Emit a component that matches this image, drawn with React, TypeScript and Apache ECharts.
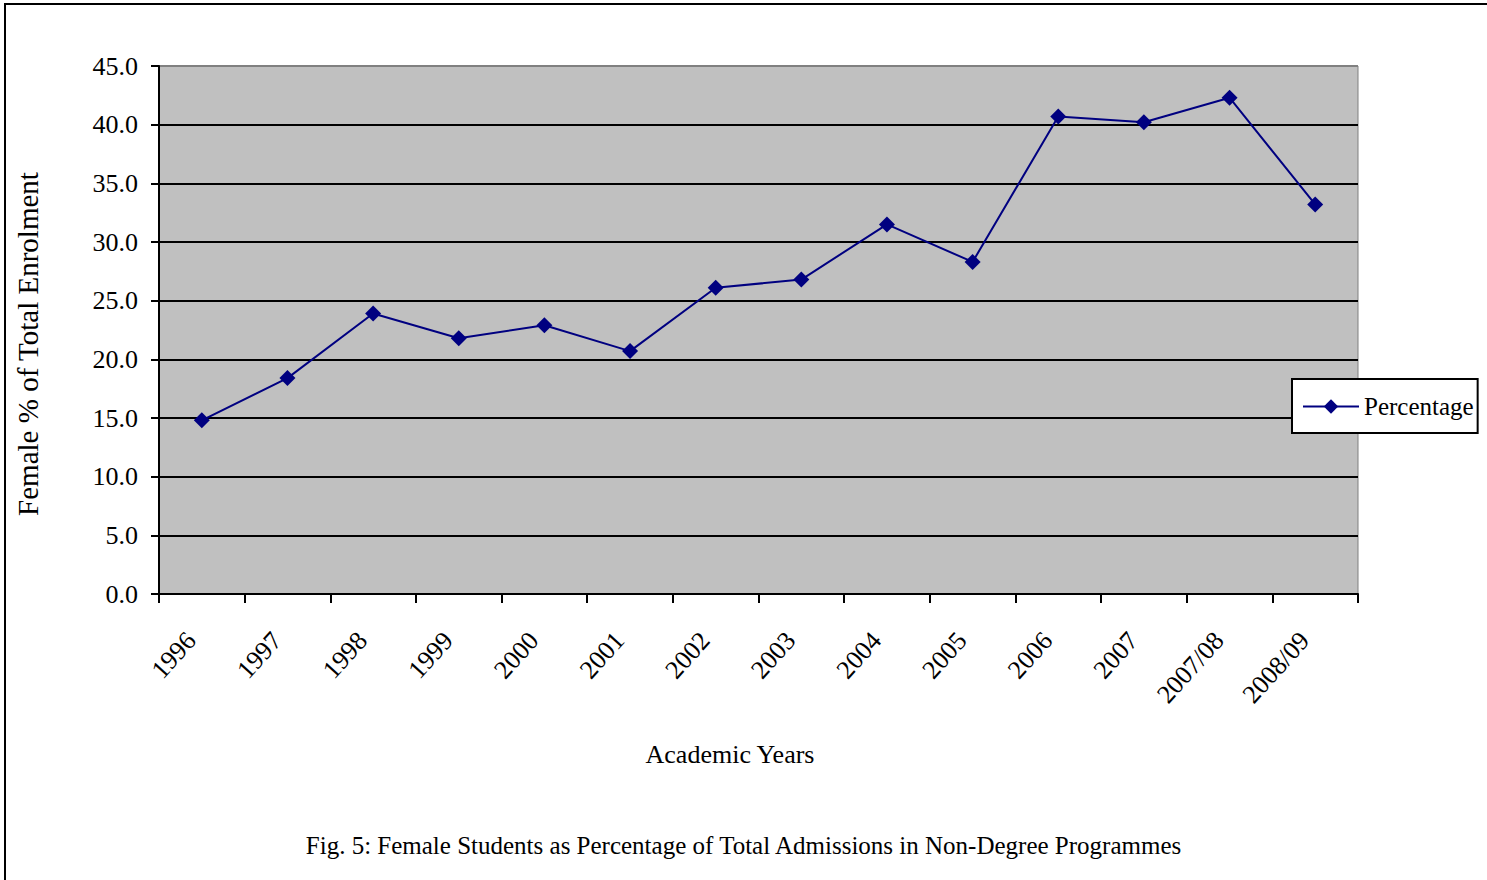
import React, { useEffect, useRef } from "react";
import * as echarts from "echarts";

const categories = ["1996", "1997", "1998", "1999", "2000", "2001", "2002", "2003", "2004", "2005", "2006", "2007", "2007/08", "2008/09"];
const percentage = [14.8, 18.4, 23.9, 21.8, 22.9, 20.7, 26.1, 26.8, 31.5, 28.3, 40.7, 40.2, 42.3, 33.2];
const seriesName = "Percentage";
const yAxisTitle = "Female % of Total Enrolment";
const xAxisTitle = "Academic Years";
const figureTitle = "Fig. 5: Female Students as Percentage of Total Admissions in Non-Degree Programmes";

const FONT = "'Liberation Serif', 'Times New Roman', serif";

export default function App() {
  const ref = useRef<HTMLDivElement>(null);
  useEffect(() => {
    if (!ref.current) return;
    const chart = echarts.init(ref.current, null, { renderer: "svg" });
    const splitColors = ["#000", "#000", "#000", "#000", "#000", "#000", "#000", "#000", "#000", "#808080"];
    chart.setOption({
      animation: false,
      backgroundColor: "#fff",
      textStyle: { fontFamily: FONT, color: "#000" },
      title: {
        text: figureTitle,
        left: "center",
        top: 828,
        textStyle: { fontFamily: FONT, fontSize: 25, fontWeight: "normal", color: "#000" },
      },
      graphic: [
        {
          type: "rect",
          shape: { x: 5, y: 4, width: 1520, height: 920 },
          style: { fill: "none", stroke: "#000", lineWidth: 2 },
          silent: true,
        },
        {
          type: "text",
          x: 28,
          y: 344,
          rotation: Math.PI / 2,
          style: {
            text: yAxisTitle,
            fontFamily: FONT,
            fontSize: 29,
            fill: "#000",
            textAlign: "center",
            textVerticalAlign: "middle",
          },
          silent: true,
        },
        {
          type: "text",
          x: 730,
          y: 754,
          style: {
            text: xAxisTitle,
            fontFamily: FONT,
            fontSize: 26,
            fill: "#000",
            textAlign: "center",
            textVerticalAlign: "middle",
          },
          silent: true,
        },
      ],
      legend: {
        data: [seriesName],
        left: 1292,
        top: 379,
        orient: "vertical",
        backgroundColor: "#fff",
        borderColor: "#000",
        borderWidth: 2,
        borderRadius: 0,
        padding: [15, 4, 14, 10],
        itemWidth: 56,
        itemHeight: 18,
        itemGap: 0,
        textStyle: { fontFamily: FONT, fontSize: 25, color: "#000" },
      },
      grid: {
        left: 159,
        top: 66,
        right: 129,
        bottom: 286,
        show: true,
        backgroundColor: "#c0c0c0",
        borderColor: "#808080",
        borderWidth: 1,
        containLabel: false,
        outerBoundsMode: "none",
      },
      xAxis: {
        type: "category",
        data: categories,
        boundaryGap: true,
        axisLine: { show: true, lineStyle: { color: "#000", width: 2 } },
        axisTick: { show: true, alignWithLabel: false, length: 9, lineStyle: { color: "#000", width: 2 } },
        axisLabel: {
          rotate: 48,
          margin: 30,
          padding: [0, 16, 0, 0],
          interval: 0,
          fontFamily: FONT,
          fontSize: 26,
          color: "#000",
        },
        splitLine: { show: false },
      },
      yAxis: {
        type: "value",
        min: 0,
        max: 45,
        interval: 5,
        axisLine: { show: true, lineStyle: { color: "#000", width: 2 } },
        axisTick: { show: true, length: 8, lineStyle: { color: "#000", width: 2 } },
        axisLabel: {
          formatter: (v: number) => v.toFixed(1),
          margin: 21,
          fontFamily: FONT,
          fontSize: 26,
          color: "#000",
        },
        splitLine: { show: true, lineStyle: { color: splitColors, width: 2 } },
      },
      series: [
        {
          name: seriesName,
          type: "line",
          data: percentage,
          symbol: "diamond",
          symbolSize: 16,
          itemStyle: { color: "#000080" },
          lineStyle: { color: "#000080", width: 2 },
        },
      ],
    });
    return () => chart.dispose();
  }, []);
  return (
    <div
      ref={ref}
      style={{ position: "absolute", left: 0, top: 0, width: 1487, height: 880 }}
    />
  );
}
